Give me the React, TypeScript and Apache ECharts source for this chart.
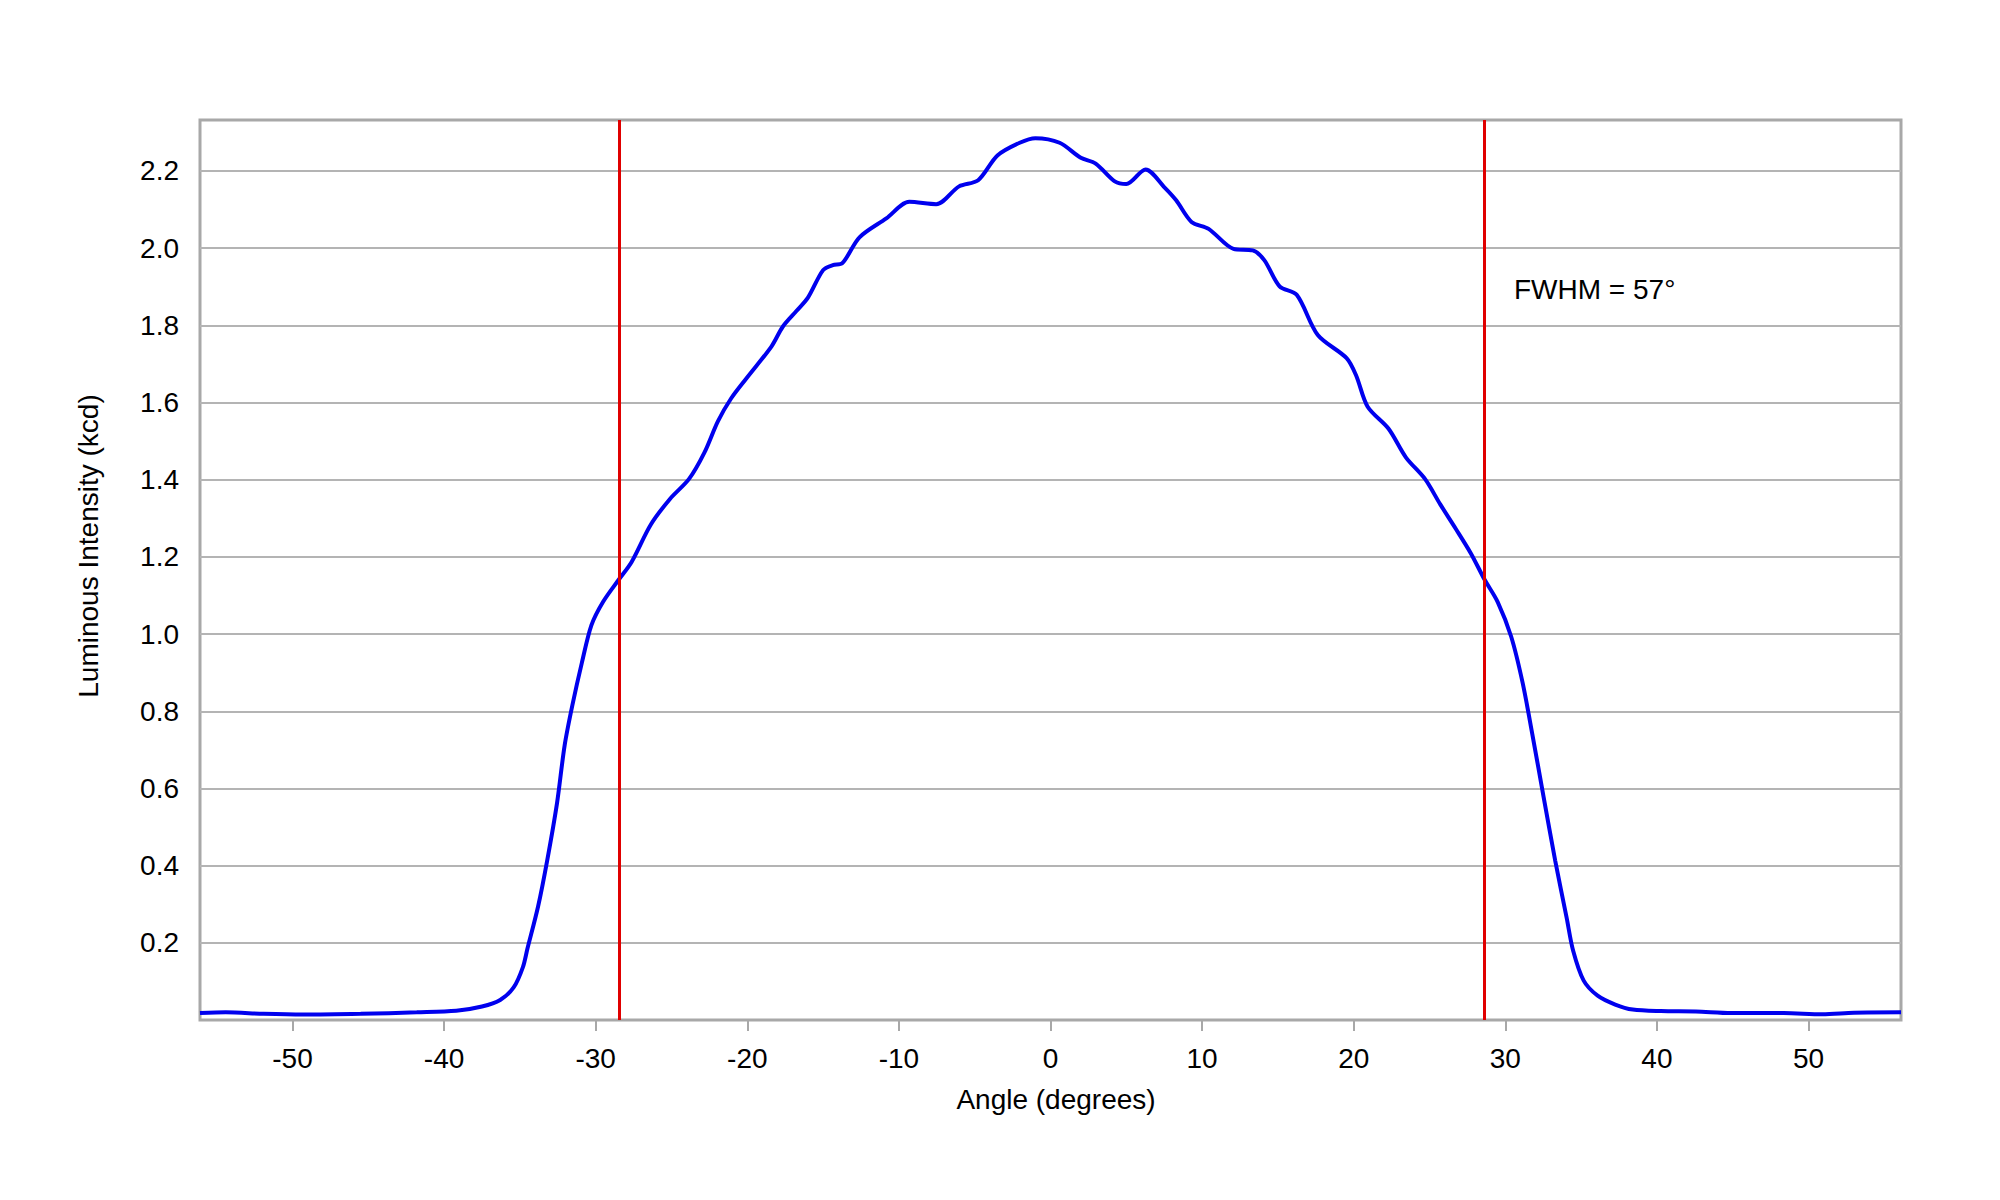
import React, { useEffect, useRef } from "react";
import * as echarts from "echarts";

const angles = [
  -56.1, -54.4, -51.9, -49.3, -45.5, -41.8, -39.2, -37.5, -36.3, -35.4, -34.8, -34.5,
  -33.8, -33.2, -32.55, -32.05, -31.54, -30.91, -30.28, -29.52, -28.46, -27.63, -26.36,
  -25.1, -23.84, -22.83, -21.94, -21.06, -20.05, -18.41, -17.65, -16.76, -16.01, -15.0,
  -14.36, -13.73, -12.6, -10.83, -9.31, -7.54, -6.03, -4.77, -3.5, -2.03, -1.0, 0.6, 2.0,
  2.98, 4.24, 5.0, 6.27, 7.53, 8.29, 9.3, 10.43, 12.07, 13.34, 14.1, 15.11, 16.24, 17.63,
  19.53, 20.16, 20.92, 22.3, 23.44, 24.7, 25.71, 26.73, 27.73, 28.62, 29.5, 30.39, 31.14,
  31.78, 32.53, 33.29, 34.05, 34.47, 35.17, 36.09, 37.25, 38.41, 40.26, 42.57, 44.89,
  48.36, 50.91, 53.0, 56.1,
];

const intensity = [
  0.018, 0.02, 0.016, 0.014, 0.016, 0.02, 0.024, 0.035, 0.052, 0.085, 0.137, 0.185,
  0.294, 0.413, 0.562, 0.711, 0.815, 0.926, 1.023, 1.083, 1.142, 1.187, 1.284,
  1.35, 1.402, 1.47, 1.551, 1.611, 1.663, 1.745, 1.797, 1.837, 1.871, 1.943,
  1.956, 1.961, 2.028, 2.077, 2.12, 2.114, 2.16, 2.176, 2.24, 2.273, 2.285, 2.273, 2.234,
  2.219, 2.173, 2.166, 2.204, 2.157, 2.124, 2.068, 2.05, 1.998, 1.994, 1.969, 1.901, 1.879, 1.775,
  1.715, 1.67, 1.589, 1.532, 1.458, 1.402, 1.336, 1.273, 1.209, 1.142, 1.083, 0.993, 0.874,
  0.741, 0.577, 0.413, 0.264, 0.18, 0.102, 0.063, 0.04, 0.027, 0.023, 0.022, 0.018,
  0.018, 0.015, 0.019, 0.02,
];

const xTicks = [-50, -40, -30, -20, -10, 0, 10, 20, 30, 40, 50];
const yTicks = [0.2, 0.4, 0.6, 0.8, 1.0, 1.2, 1.4, 1.6, 1.8, 2.0, 2.2];
const fwhmLines = [-28.45, 28.6];
const xTitle = "Angle (degrees)";
const yTitle = "Luminous Intensity (kcd)";
const annotation = "FWHM = 57°";

const FONT = "'Liberation Sans', Arial, sans-serif";

export default function App() {
  const ref = useRef<HTMLDivElement>(null);

  useEffect(() => {
    document.body.style.margin = "0";
    if (!ref.current) return;
    const chart = echarts.init(ref.current, undefined, { renderer: "svg" });
    const data = angles.map((a, i) => [a, intensity[i]]);
    chart.setOption({
      animation: false,
      backgroundColor: "#ffffff",
      grid: {
        left: 200,
        right: 99,
        top: 120,
        bottom: 180,
        show: true,
        borderColor: "#a8a8a8",
        borderWidth: 3,
        backgroundColor: "transparent",
      },
      xAxis: {
        type: "value",
        min: -56.1,
        max: 56.1,
        axisLine: { show: false },
        axisTick: {
          show: true,
          length: 11,
          customValues: xTicks,
          lineStyle: { color: "#a8a8a8", width: 2 },
        },
        axisLabel: {
          customValues: xTicks,
          margin: 24,
          fontSize: 28,
          fontFamily: FONT,
          color: "#000000",
        },
        splitLine: { show: false },
      },
      yAxis: {
        type: "value",
        min: 0,
        max: 2.332,
        interval: 0.2,
        axisLine: { show: false },
        axisTick: {
          show: true,
          length: 10,
          customValues: yTicks,
          lineStyle: { color: "#b4b4b4", width: 2 },
        },
        axisLabel: {
          customValues: yTicks,
          margin: 21,
          fontSize: 28,
          fontFamily: FONT,
          color: "#000000",
          formatter: (v: number) => v.toFixed(1),
        },
        splitLine: { show: true, lineStyle: { color: "#b4b4b4", width: 2 } },
      },
      graphic: [
        {
          type: "text",
          x: 1056,
          y: 1099,
          style: {
            text: xTitle,
            fontSize: 28,
            fontFamily: FONT,
            fill: "#000000",
            align: "center",
            verticalAlign: "middle",
          },
        },
        {
          type: "text",
          x: 88,
          y: 546,
          rotation: Math.PI / 2,
          style: {
            text: yTitle,
            fontSize: 28,
            fontFamily: FONT,
            fill: "#000000",
            align: "center",
            verticalAlign: "middle",
          },
        },
        {
          type: "text",
          x: 1514,
          y: 289,
          style: {
            text: annotation,
            fontSize: 28,
            fontFamily: FONT,
            fill: "#000000",
            align: "left",
            verticalAlign: "middle",
          },
        },
      ],
      series: [
        {
          type: "line",
          data,
          showSymbol: false,
          symbol: "none",
          smooth: 0.3,
          lineStyle: { color: "#0000ee", width: 4 },
          markLine: {
            silent: true,
            symbol: "none",
            label: { show: false },
            lineStyle: { color: "#e00000", width: 3, type: "solid" },
            data: fwhmLines.map((v) => ({ xAxis: v })),
          },
        },
      ],
    });
    return () => chart.dispose();
  }, []);

  return <div ref={ref} style={{ width: 2000, height: 1200 }} />;
}
